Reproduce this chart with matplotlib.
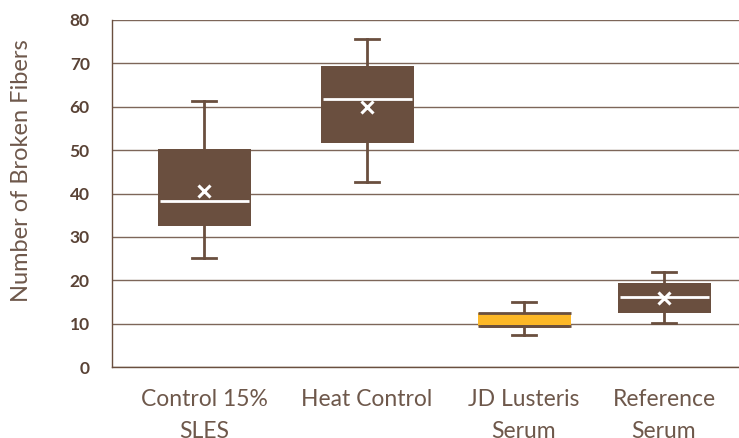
import matplotlib
matplotlib.use("Agg")
import matplotlib.pyplot as plt

# data
categories = ["Control 15%\nSLES", "Heat Control", "JD Lusteris\nSerum", "Reference\nSerum"]
whislo = [25.2, 42.6, 7.4, 10.2]
q1 = [32.5, 51.7, 9.5, 12.5]
med = [38.2, 61.8, 9.5, 16.1]
q3 = [50.2, 69.4, 12.5, 19.4]
whishi = [61.3, 75.6, 15.0, 21.9]
means = [40.5, 60.0, None, 16.0]
yticks = [0, 10, 20, 30, 40, 50, 60, 70, 80]

brown = "#6a4f3f"
orange = "#fdb827"
grid_c = "#7d6659"
text_c = "#6e584b"
tick_c = "#5a4336"

plt.rcParams["font.family"] = ["Lato", "DejaVu Sans"]

fig = plt.figure(figsize=(7.39, 4.38), dpi=100)
ax = fig.add_axes([112 / 739, 1 - 367 / 438, 627 / 739, 347 / 438])

# x axis in pixel-like units so boxes sit where they do in the picture
pos = [92, 255, 412, 552]
stats = []
for i in range(len(categories)):
    stats.append(dict(whislo=whislo[i], q1=q1[i], med=med[i], q3=q3[i],
                      whishi=whishi[i], mean=means[i], fliers=[]))

b = ax.bxp(stats, positions=pos, widths=93, capwidths=24, patch_artist=True,
           showmeans=False,
           boxprops=dict(facecolor=brown, edgecolor="none"),
           whiskerprops=dict(color=brown, lw=2),
           capprops=dict(color=brown, lw=2),
           medianprops=dict(color="white", lw=2))
for w in b["whiskers"] + b["caps"]:
    w.set_zorder(1)
for bx in b["boxes"]:
    bx.set_zorder(2)
for m in b["medians"]:
    m.set_zorder(3)
    xs = m.get_xdata()
    m.set_xdata([xs[0] + 2, xs[1] - 2])

# JD Lusteris box is orange with brown top/bottom lines
b["boxes"][2].set_facecolor(orange)
b["medians"][2].set_color(brown)
ax.hlines([q1[2], q3[2]], pos[2] - 46.5, pos[2] + 46.5, colors=brown, lw=2, zorder=3)

for i, m in enumerate(means):
    if m is not None:
        ax.plot(pos[i], m, marker="x", color="white", ms=8, mew=2.2, zorder=4)

ax.set_xlim(0, 627)
ax.set_ylim(0, 80)
ax.set_yticks(yticks)
ax.set_yticklabels([str(t) for t in yticks], fontsize=12.5, fontweight="bold", color=tick_c)
ax.set_xticks(pos)
ax.set_xticklabels(categories, fontsize=16.5, color=text_c, linespacing=1.65, va="top")
ax.tick_params(axis="both", length=0)
ax.tick_params(axis="y", pad=16)
ax.tick_params(axis="x", pad=16)

ax.yaxis.grid(True, color=grid_c, lw=1)
ax.set_axisbelow(True)
for s in ["top", "right"]:
    ax.spines[s].set_visible(False)
ax.spines["left"].set_color(brown)
ax.spines["bottom"].set_color(brown)
ax.spines["left"].set_linewidth(1)
ax.spines["bottom"].set_linewidth(1)

fig.text(22 / 739, 1 - 171 / 438, "Number of Broken Fibers", rotation=90,
         ha="center", va="center", fontsize=17, color=text_c)

fig.savefig("out.png", dpi=100)
